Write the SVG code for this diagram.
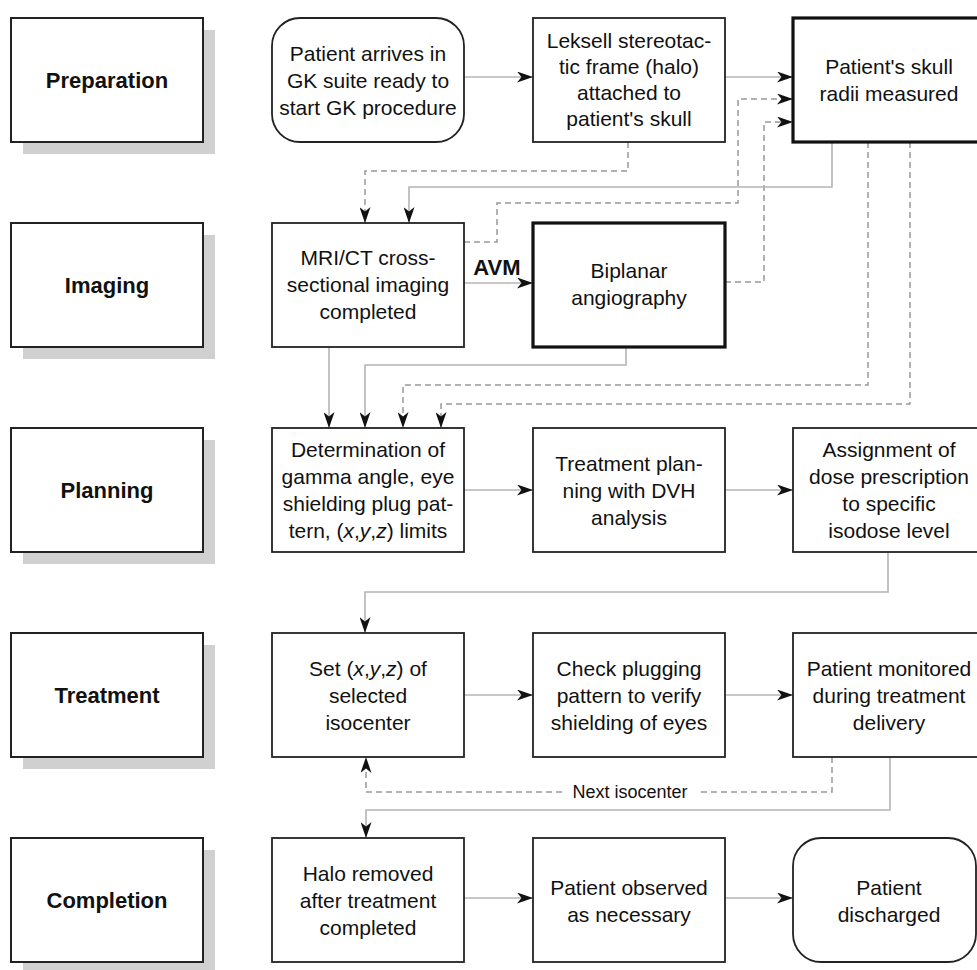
<svg xmlns="http://www.w3.org/2000/svg" width="977" height="970" viewBox="0 0 977 970">
<defs>
<marker id="ah" viewBox="0 0 16 11" refX="16" refY="5.5" markerWidth="16" markerHeight="11" orient="auto" markerUnits="userSpaceOnUse"><path d="M0,0 L16,5.5 L0,11 L4.5,5.5 z" fill="#111"/></marker>
</defs>
<style>
.stage{fill:#fff;stroke:#222;stroke-width:2}
.shadow{fill:#d0d0d0}
.box{fill:#fff;stroke:#222;stroke-width:1.8}
.thick{fill:#fff;stroke:#111;stroke-width:3.2}
.lbl{font-family:"Liberation Sans",Arial,sans-serif;font-weight:bold;font-size:22px;fill:#111;text-anchor:middle;dominant-baseline:central}
.t{font-family:"Liberation Sans",Arial,sans-serif;font-size:21px;fill:#111;text-anchor:middle;dominant-baseline:central}
.sm{font-family:"Liberation Sans",Arial,sans-serif;font-size:18px;fill:#111;text-anchor:middle;dominant-baseline:central}
.solid{fill:none;stroke:#b4b4b4;stroke-width:1.6;marker-end:url(#ah)}
.dash{fill:none;stroke:#999;stroke-width:1.5;stroke-dasharray:6,4;marker-end:url(#ah)}
</style>
<rect width="977" height="970" fill="#fff"/>

<g id="stage-preparation"><rect class="shadow" x="23" y="30" width="192" height="124"/><rect class="stage" x="11" y="18" width="192" height="124"/><text class="lbl" x="107" y="80">Preparation</text></g>
<g id="stage-imaging"><rect class="shadow" x="23" y="235" width="192" height="124"/><rect class="stage" x="11" y="223" width="192" height="124"/><text class="lbl" x="107" y="285">Imaging</text></g>
<g id="stage-planning"><rect class="shadow" x="23" y="440" width="192" height="124"/><rect class="stage" x="11" y="428" width="192" height="124"/><text class="lbl" x="107" y="490">Planning</text></g>
<g id="stage-treatment"><rect class="shadow" x="23" y="645" width="192" height="124"/><rect class="stage" x="11" y="633" width="192" height="124"/><text class="lbl" x="107" y="695">Treatment</text></g>
<g id="stage-completion"><rect class="shadow" x="23" y="850" width="192" height="124"/><rect class="stage" x="11" y="838" width="192" height="124"/><text class="lbl" x="107" y="900">Completion</text></g>

<g id="connectors">
<path class="solid" d="M464,77 H533"/>
<path class="solid" d="M725,77 H793"/>
<path class="dash" d="M464,242 H497 V203 H738 V99 H793"/>
<path class="dash" d="M725,282 H764 V122 H793"/>
<path class="dash" d="M628,142 V171 H365 V223"/>
<path class="solid" d="M832,142 V187 H409 V223"/>
<path class="solid" d="M464,283 H533"/>
<text class="lbl" x="497" y="267">AVM</text>
<path class="solid" d="M329,347 V428"/>
<path class="solid" d="M626,347 V365 H365 V428"/>
<path class="dash" d="M868,142 V385 H403 V428"/>
<path class="dash" d="M910,142 V404 H441 V428"/>
<path class="solid" d="M464,490 H533"/>
<path class="solid" d="M725,490 H793"/>
<path class="solid" d="M888,552 V592 H365 V633"/>
<path class="solid" d="M464,695 H533"/>
<path class="solid" d="M725,695 H793"/>
<path class="dash" d="M832,757 V792 H698 M562,792 H366 V757"/>
<text class="sm" x="630" y="792">Next isocenter</text>
<path class="solid" d="M890,757 V810 H366 V838"/>
<path class="solid" d="M464,898 H533"/>
<path class="solid" d="M725,898 H793"/>
</g>

<g id="n-arrive"><rect class="box" x="272" y="18" width="192" height="124" rx="28"/><text class="t" x="368"><tspan x="368" y="53">Patient arrives in</tspan><tspan x="368" y="80">GK suite ready to</tspan><tspan x="368" y="107">start GK procedure</tspan></text></g>
<g id="n-leksell"><rect class="box" x="533" y="18" width="192" height="124"/><text class="t"><tspan x="629" y="40">Leksell stereotac-</tspan><tspan x="629" y="66">tic frame (halo)</tspan><tspan x="629" y="92">attached to</tspan><tspan x="629" y="118">patient's skull</tspan></text></g>
<g id="n-skull"><rect class="thick" x="793" y="18" width="192" height="124"/><text class="t"><tspan x="889" y="66">Patient's skull</tspan><tspan x="889" y="93">radii measured</tspan></text></g>

<g id="n-mri"><rect class="box" x="272" y="223" width="192" height="124"/><text class="t"><tspan x="368" y="257">MRI/CT cross-</tspan><tspan x="368" y="284">sectional imaging</tspan><tspan x="368" y="311">completed</tspan></text></g>
<g id="n-angio"><rect class="thick" x="533" y="223" width="192" height="124"/><text class="t"><tspan x="629" y="270">Biplanar</tspan><tspan x="629" y="297">angiography</tspan></text></g>

<g id="n-determination"><rect class="box" x="272" y="428" width="192" height="124"/><text class="t"><tspan x="368" y="449">Determination of</tspan><tspan x="368" y="476">gamma angle, eye</tspan><tspan x="368" y="503">shielding plug pat-</tspan><tspan x="368" y="530">tern, (<tspan font-style="italic">x</tspan>,<tspan font-style="italic">y</tspan>,<tspan font-style="italic">z</tspan>) limits</tspan></text></g>
<g id="n-planning"><rect class="box" x="533" y="428" width="192" height="124"/><text class="t"><tspan x="629" y="463">Treatment plan-</tspan><tspan x="629" y="490">ning with DVH</tspan><tspan x="629" y="517">analysis</tspan></text></g>
<g id="n-assign"><rect class="box" x="793" y="428" width="192" height="124"/><text class="t"><tspan x="889" y="449">Assignment of</tspan><tspan x="889" y="476">dose prescription</tspan><tspan x="889" y="503">to specific</tspan><tspan x="889" y="530">isodose level</tspan></text></g>

<g id="n-set"><rect class="box" x="272" y="633" width="192" height="124"/><text class="t"><tspan x="368" y="668">Set (<tspan font-style="italic">x</tspan>,<tspan font-style="italic">y</tspan>,<tspan font-style="italic">z</tspan>) of</tspan><tspan x="368" y="695">selected</tspan><tspan x="368" y="722">isocenter</tspan></text></g>
<g id="n-check"><rect class="box" x="533" y="633" width="192" height="124"/><text class="t"><tspan x="629" y="668">Check plugging</tspan><tspan x="629" y="695">pattern to verify</tspan><tspan x="629" y="722">shielding of eyes</tspan></text></g>
<g id="n-monitor"><rect class="box" x="793" y="633" width="192" height="124"/><text class="t"><tspan x="889" y="668">Patient monitored</tspan><tspan x="889" y="695">during treatment</tspan><tspan x="889" y="722">delivery</tspan></text></g>

<g id="n-halo"><rect class="box" x="272" y="838" width="192" height="124"/><text class="t"><tspan x="368" y="873">Halo removed</tspan><tspan x="368" y="900">after treatment</tspan><tspan x="368" y="927">completed</tspan></text></g>
<g id="n-observed"><rect class="box" x="533" y="838" width="192" height="124"/><text class="t"><tspan x="629" y="887">Patient observed</tspan><tspan x="629" y="914">as necessary</tspan></text></g>
<g id="n-discharged"><rect class="box" x="793" y="838" width="183" height="124" rx="28"/><text class="t"><tspan x="889" y="887">Patient</tspan><tspan x="889" y="914">discharged</tspan></text></g>
</svg>
